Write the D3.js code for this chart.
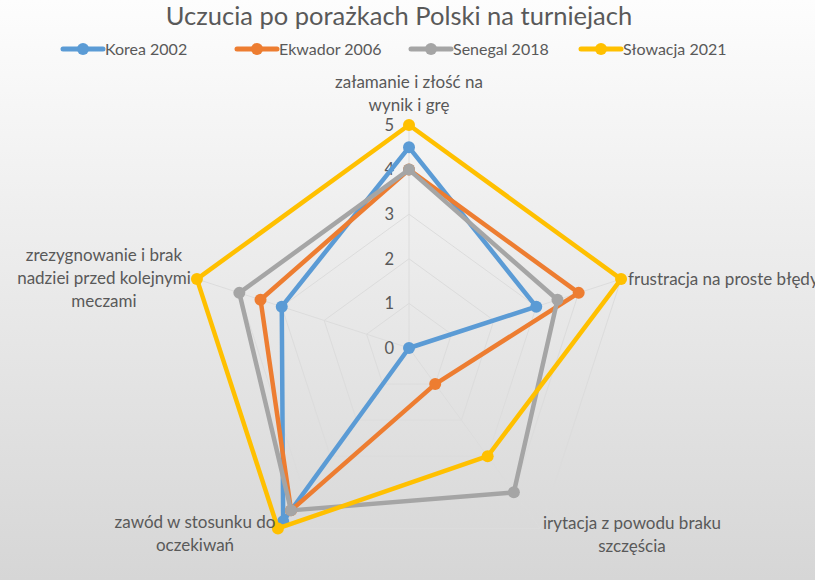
<!DOCTYPE html>
<html><head><meta charset="utf-8">
<script src="https://cdn.jsdelivr.net/npm/d3@7"></script>
<style>html,body{margin:0;padding:0;overflow:hidden;}svg{display:block;}</style>
</head><body>
<script>
const categories = [
  ["załamanie i złość na", "wynik i grę"],
  ["frustracja na proste błędy"],
  ["irytacja z powodu braku", "szczęścia"],
  ["zawód w stosunku do", "oczekiwań"],
  ["zrezygnowanie i brak", "nadziei przed kolejnymi", "meczami"]
];
const seriesNames = ["Korea 2002", "Ekwador 2006", "Senegal 2018", "Słowacja 2021"];
const korea = [4.5, 3, 0, 4.8, 3];
const ekwador = [4, 4, 1, 4.5, 3.5];
const senegal = [4, 3.5, 4, 4.5, 4];
const slowacja = [5, 5, 3, 5, 5];
const tickValues = [0, 1, 2, 3, 4, 5];
const colors = ["#5B9BD5", "#ED7D31", "#A5A5A5", "#FFC000"];
const series = [korea, ekwador, senegal, slowacja];

const W = 815, H = 580, cx = 409, cy = 348, R = 223;
const font = "Lato, 'Open Sans', sans-serif";
const txt = "#595959";

const svg = d3.select("body").append("svg").attr("width", W).attr("height", H);
const defs = svg.append("defs");
const grad = defs.append("linearGradient").attr("id", "bg").attr("x1", 0).attr("y1", 0).attr("x2", 0).attr("y2", 1);
grad.append("stop").attr("offset", "0%").attr("stop-color", "#fdfdfd");
grad.append("stop").attr("offset", "100%").attr("stop-color", "#d6d6d6");
svg.append("rect").attr("width", W).attr("height", H).attr("fill", "url(#bg)");

const r = d3.scaleLinear().domain([0, 5]).range([0, R]);
const angle = d3.scalePoint().domain(d3.range(categories.length)).range([0, 2 * Math.PI * (categories.length - 1) / categories.length]);
const pt = (i, v) => [cx + r(v) * Math.sin(angle(i)), cy - r(v) * Math.cos(angle(i))];

// grid
const g = svg.append("g");
tickValues.filter(t => t > 0).forEach(t => {
  g.append("polygon")
    .attr("points", categories.map((c, i) => pt(i, t).join(",")).join(" "))
    .attr("fill", "none").attr("stroke", "#dcdcdc").attr("stroke-width", 1);
});
categories.forEach((c, i) => {
  const p = pt(i, 5);
  g.append("line").attr("x1", cx).attr("y1", cy).attr("x2", p[0]).attr("y2", p[1])
    .attr("stroke", "#dcdcdc").attr("stroke-width", 1);
});

// tick labels
tickValues.forEach(t => {
  svg.append("text").attr("x", cx - 15).attr("y", cy - r(t)).attr("dy", "0.35em")
    .attr("text-anchor", "end").attr("font-family", font).attr("font-size", 16.5).attr("fill", txt).text(t);
});

// series
const line = d3.line().curve(d3.curveLinearClosed);
series.forEach((s, k) => {
  const pts = s.map((v, i) => pt(i, v));
  svg.append("path").attr("d", line(pts)).attr("fill", "none")
    .attr("stroke", colors[k]).attr("stroke-width", 4.5).attr("stroke-linejoin", "round");
  svg.append("g").selectAll("circle").data(pts).join("circle")
    .attr("cx", d => d[0]).attr("cy", d => d[1]).attr("r", 6).attr("fill", colors[k]);
});

// category labels
const labelPos = [
  {x: 409, y: 82, anchor: "middle"},
  {x: 628, y: 279, anchor: "start"},
  {x: 632, y: 523, anchor: "middle"},
  {x: 195, y: 522, anchor: "middle"},
  {x: 104, y: 255, anchor: "middle"}
];
categories.forEach((lines, i) => {
  const t = svg.append("text").attr("font-family", font).attr("font-size", 17).attr("fill", txt)
    .attr("text-anchor", labelPos[i].anchor);
  lines.forEach((l, j) => {
    t.append("tspan").attr("x", labelPos[i].x).attr("y", labelPos[i].y + j * 23).attr("dy", "0.35em").text(l);
  });
});

// title
svg.append("text").attr("x", 399).attr("y", 16).attr("dy", "0.35em").attr("text-anchor", "middle")
  .attr("font-family", font).attr("font-size", 25.5).attr("fill", txt)
  .text("Uczucia po porażkach Polski na turniejach");

// legend
const legX = [63, 237, 411, 581];
seriesNames.forEach((n, k) => {
  const lg = svg.append("g").attr("transform", `translate(${legX[k]},49)`);
  lg.append("line").attr("x1", 0).attr("x2", 40).attr("stroke", colors[k]).attr("stroke-width", 5).attr("stroke-linecap", "round");
  lg.append("circle").attr("cx", 20).attr("r", 6).attr("fill", colors[k]);
  lg.append("text").attr("x", 42).attr("dy", "0.35em").attr("font-family", font).attr("font-size", 16).attr("fill", txt).text(n);
});
</script>
</body></html>
